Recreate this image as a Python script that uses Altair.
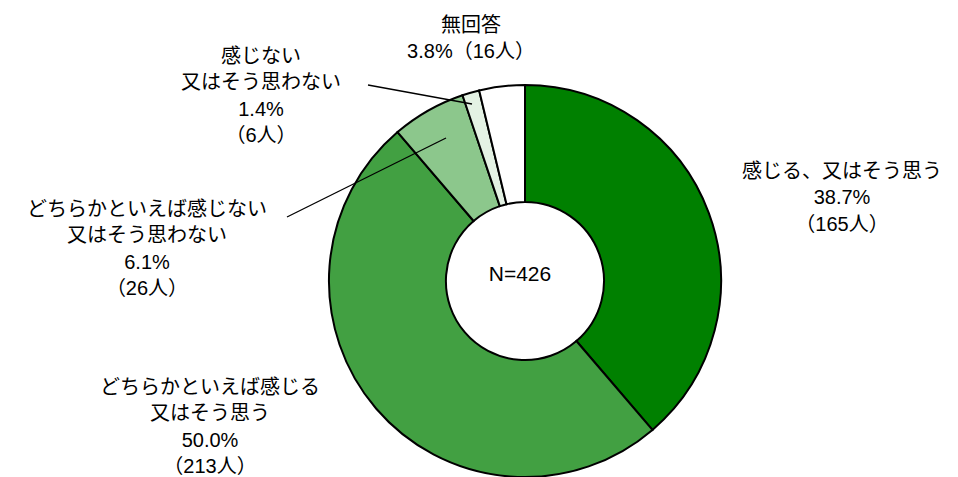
import altair as alt
import pandas as pd

# --- data ---
categories = ["感じる、又はそう思う", "どちらかといえば感じる又はそう思う",
              "どちらかといえば感じない又はそう思わない", "感じない又はそう思わない", "無回答"]
counts = [165, 213, 26, 6, 16]
percents = ["38.7%", "50.0%", "6.1%", "1.4%", "3.8%"]
colors = ["#008000", "#42a042", "#8cc78c", "#e4f2e4", "#ffffff"]

label_texts = [
    "感じる、又はそう思う\n38.7%\n（165人）",
    "どちらかといえば感じる\n又はそう思う\n50.0%\n（213人）",
    "どちらかといえば感じない\n又はそう思わない\n6.1%\n（26人）",
    "感じない\n又はそう思わない\n1.4%\n（6人）",
    "無回答\n3.8%（16人）",
]
total_text = "N=426"

# --- layout (pixels) ---
CX, CY = 525, 281
R_OUT, R_IN = 196, 79
label_x = [842, 210, 147, 261, 471]
label_y = [178, 394, 216, 63, 32]
leader_x1 = [368, 287]
leader_y1 = [85, 217]
leader_x2 = [472, 446]
leader_y2 = [104, 138]

FONT = "Liberation Sans, Arial, Noto Sans CJK JP, sans-serif"

slices = pd.DataFrame({"category": categories, "count": counts,
                       "pct": percents, "idx": list(range(len(categories)))})
labels = pd.DataFrame({"text": label_texts, "x": label_x, "y": label_y})
leaders = pd.DataFrame({"x1": leader_x1, "y1": leader_y1,
                        "x2": leader_x2, "y2": leader_y2})
center = pd.DataFrame({"text": [total_text]})

donut = alt.Chart(slices).mark_arc(
    outerRadius=R_OUT, innerRadius=R_IN, stroke="#000000", strokeWidth=2
).encode(
    theta=alt.Theta("count:Q", stack=True),
    color=alt.Color("category:N", scale=alt.Scale(domain=categories, range=colors), legend=None),
    order=alt.Order("idx:Q", sort="ascending"),
    x=alt.value(CX),
    y=alt.value(CY),
)

leader_lines = alt.Chart(leaders).mark_rule(color="#000000", strokeWidth=1.3).encode(
    x=alt.X("x1:Q", scale=None),
    y=alt.Y("y1:Q", scale=None),
    x2=alt.X2("x2:Q"),
    y2=alt.Y2("y2:Q"),
)

label_marks = alt.Chart(labels).mark_text(
    font=FONT, fontSize=20, lineBreak="\n", lineHeight=26.3,
    align="center", baseline="alphabetic", color="#000000"
).encode(
    x=alt.X("x:Q", scale=None),
    y=alt.Y("y:Q", scale=None),
    text="text:N",
)

center_text = alt.Chart(center).mark_text(
    font=FONT, fontSize=21, align="center", baseline="middle", color="#000000"
).encode(
    x=alt.value(520),
    y=alt.value(275),
    text="text:N",
)

chart = alt.layer(donut, leader_lines, label_marks, center_text).properties(
    width=958, height=477, padding=0, autosize="none", background="#ffffff"
).configure_view(stroke=None)

chart.save("out.html", embed_options={"renderer": "svg", "actions": False})
